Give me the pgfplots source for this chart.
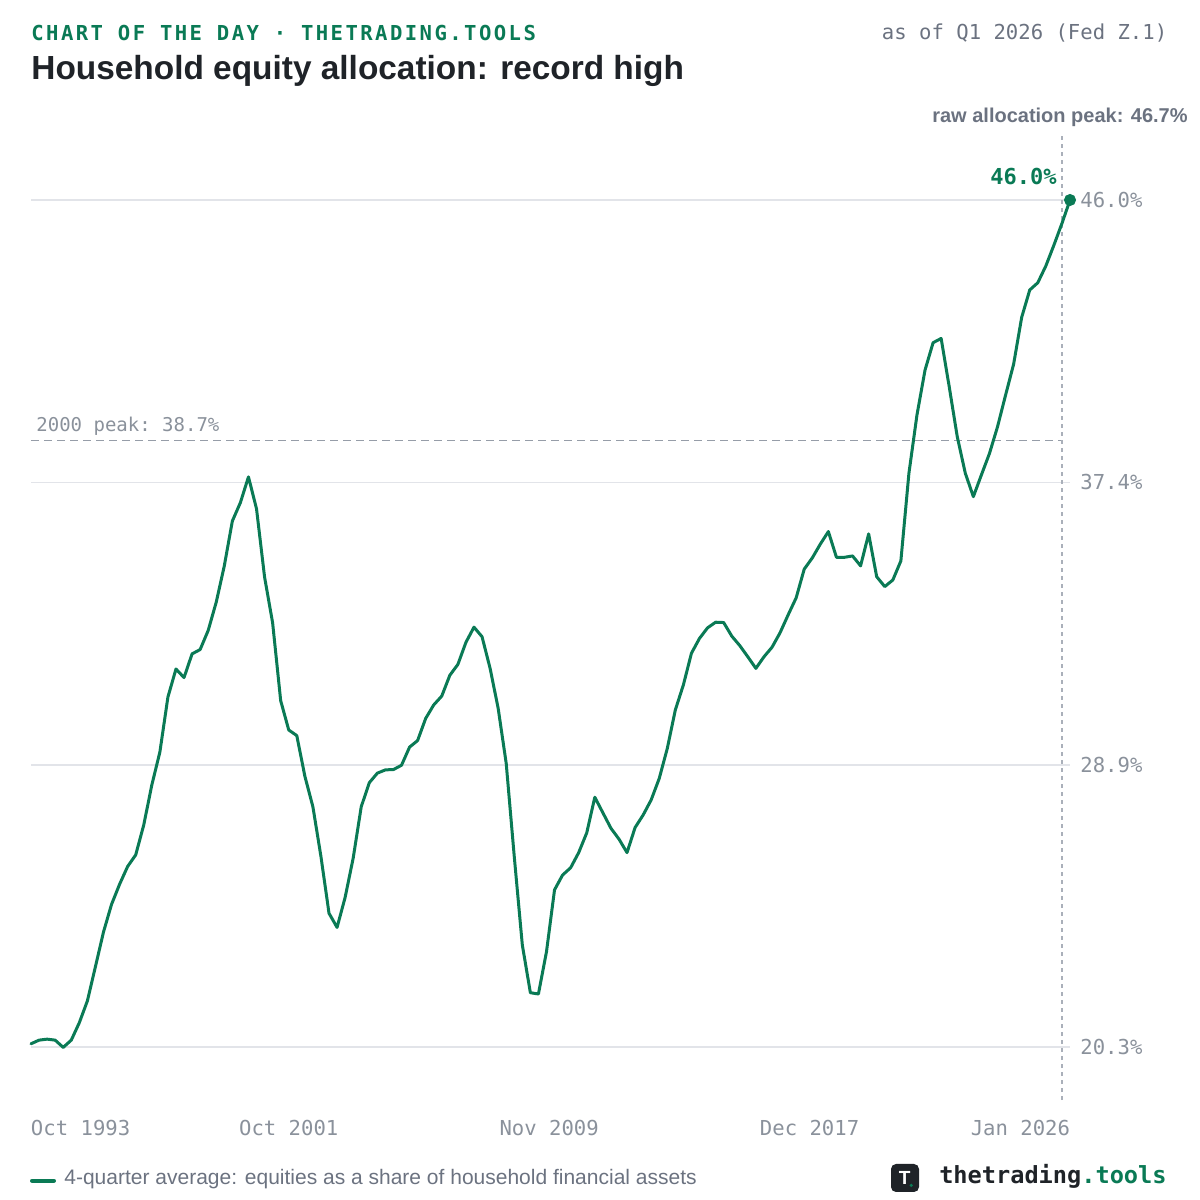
\documentclass[border=0pt]{standalone}
\usepackage{fontspec}
\setmainfont{Liberation Sans}
\setmonofont{DejaVu Sans Mono}
\newfontfamily\hdrfont{DejaVu Sans Mono}[LetterSpace=11.8]
\usepackage{pgfplots}
\pgfplotsset{compat=1.18}
\usepackage{pgfplotstable}
\definecolor{grn}{RGB}{10,122,85}
\definecolor{tickc}{RGB}{138,145,155}
\definecolor{txtc}{RGB}{107,114,128}
\definecolor{gridc}{RGB}{226,228,233}
\definecolor{dashc}{RGB}{150,157,168}
\definecolor{dotc}{RGB}{170,176,186}
\definecolor{darkc}{RGB}{31,35,40}
\pgfplotstableread{
x y
1993.75 20.40
1994.00 20.51
1994.25 20.54
1994.50 20.51
1994.75 20.29
1995.00 20.51
1995.25 21.04
1995.50 21.70
1995.75 22.74
1996.00 23.79
1996.25 24.63
1996.50 25.24
1996.75 25.78
1997.00 26.13
1997.25 27.04
1997.50 28.25
1997.75 29.25
1998.00 30.92
1998.25 31.77
1998.50 31.51
1998.75 32.23
1999.00 32.36
1999.25 32.94
1999.50 33.80
1999.75 34.90
2000.00 36.26
2000.25 36.82
2000.50 37.60
2000.75 36.63
2001.00 34.56
2001.25 33.17
2001.50 30.81
2001.75 29.92
2002.00 29.75
2002.25 28.52
2002.50 27.59
2002.75 26.08
2003.00 24.36
2003.25 23.93
2003.50 24.84
2003.75 26.03
2004.00 27.59
2004.25 28.32
2004.50 28.61
2004.75 28.71
2005.00 28.72
2005.25 28.85
2005.50 29.40
2005.75 29.60
2006.00 30.27
2006.25 30.68
2006.50 30.95
2006.75 31.58
2007.00 31.91
2007.25 32.58
2007.50 33.04
2007.75 32.75
2008.00 31.79
2008.25 30.58
2008.50 28.91
2008.75 26.08
2009.00 23.40
2009.25 21.95
2009.50 21.91
2009.75 23.19
2010.00 25.07
2010.25 25.52
2010.50 25.74
2010.75 26.20
2011.00 26.80
2011.25 27.88
2011.50 27.41
2011.75 26.94
2012.00 26.61
2012.25 26.20
2012.50 26.96
2012.75 27.34
2013.00 27.80
2013.25 28.45
2013.50 29.36
2013.75 30.53
2014.00 31.29
2014.25 32.25
2014.50 32.70
2014.75 33.02
2015.00 33.19
2015.25 33.18
2015.50 32.77
2015.75 32.48
2016.00 32.14
2016.25 31.79
2016.50 32.14
2016.75 32.43
2017.00 32.87
2017.25 33.41
2017.50 33.93
2017.75 34.80
2018.00 35.14
2018.25 35.56
2018.50 35.94
2018.75 35.16
2019.00 35.16
2019.25 35.20
2019.50 34.90
2019.75 35.87
2020.00 34.57
2020.25 34.27
2020.50 34.47
2020.75 35.05
2021.00 37.71
2021.25 39.48
2021.50 40.84
2021.75 41.67
2022.00 41.80
2022.25 40.34
2022.50 38.82
2022.75 37.71
2023.00 37.00
2023.25 37.66
2023.50 38.31
2023.75 39.12
2024.00 40.08
2024.25 41.02
2024.50 42.44
2024.75 43.27
2025.00 43.49
2025.25 44.00
2025.50 44.63
2025.75 45.29
2026.00 46.00
}\alloc
\begin{document}
\begin{tikzpicture}
\useasboundingbox (0,0) rectangle (600pt,600pt);
\begin{axis}[
  at={(15.5pt,50pt)}, anchor=south west,
  scale only axis, width=519.5pt, height=485pt,
  xmin=1993.75, xmax=2026, ymin=18.694, ymax=48.124,
  axis line style={draw=none},
  major tick length=0pt,
  ymajorgrids, grid style={gridc, line width=0.8pt},
  ytick={20.3,28.8667,37.4333,46.0},
  yticklabels={20.3\%,28.9\%,37.4\%,46.0\%},
  yticklabel pos=right,
  yticklabel style={anchor=west, inner sep=0pt, xshift=5pt, text=tickc,
    font=\ttfamily\fontsize{10.3}{12}\selectfont},
  xtick={1993.75,2001.75,2009.8333,2017.9167,2026.0},
  xticklabels={\rlap{Oct 1993},Oct 2001,Nov 2009,Dec 2017,\llap{Jan 2026}},
  xticklabel style={anchor=base, inner sep=0pt, yshift=-17.85pt, text=tickc,
    font=\ttfamily\fontsize{10.3}{12}\selectfont},
  clip=false,
]
\addplot[dashc, line width=0.75pt, dash pattern=on 4pt off 2.5pt] coordinates {(1993.75,38.7) (2025.75,38.7)};
\addplot[dotc, line width=0.75pt, dash pattern=on 2pt off 2pt] coordinates {(2025.75,18.694) (2025.75,48.05)};
\addplot[grn, line width=1.5pt, line join=round, line cap=round] table[x=x,y=y] {\alloc};
\addplot[only marks, mark=*, mark size=2.8pt, mark options={fill=grn, draw=grn}] coordinates {(2026.0,46.0)};
\end{axis}
% header
\node[anchor=base west, inner sep=0pt, text=grn, font=\hdrfont\bfseries\fontsize{10.3}{12}\selectfont] at (15.5pt,579.75pt) {CHART OF THE DAY · THETRADING.TOOLS};
\node[anchor=base east, inner sep=0pt, text=txtc, font=\ttfamily\fontsize{10.3}{12}\selectfont] at (583.8pt,580pt) {as of Q1 2026 (Fed Z.1)};
\node[anchor=base west, inner sep=0pt, text=darkc, font=\bfseries\fontsize{16.7}{20}\selectfont] at (15.5pt,560pt) {Household equity allocation: record high};
% annotations
\node[anchor=base east, inner sep=0pt, text=txtc, font=\bfseries\fontsize{10}{12}\selectfont] at (594pt,538.5pt) {raw allocation peak: 46.7\%};
\node[anchor=base east, inner sep=0pt, text=grn, font=\ttfamily\bfseries\fontsize{11}{12}\selectfont] at (528.5pt,507.5pt) {46.0\%};
\node[anchor=base west, inner sep=0pt, text=tickc, font=\ttfamily\fontsize{9.5}{11}\selectfont] at (18pt,384.15pt) {2000 peak: 38.7\%};
% legend
\draw[grn, line width=2pt, line cap=round] (16pt,9.65pt) -- (27pt,9.65pt);
\node[anchor=base west, inner sep=0pt, text=txtc, font=\fontsize{10.5}{12}\selectfont] at (32pt,7.5pt) {4-quarter average: equities as a share of household financial assets};
% logo
\fill[darkc, rounded corners=2.5pt] (445.5pt,4pt) rectangle (459.5pt,18pt);
\node[inner sep=0pt, text=white, font=\bfseries\fontsize{9.5}{10}\selectfont] at (452.3pt,11.2pt) {T};
\fill[grn] (455.6pt,7.3pt) circle (0.9pt);
\node[anchor=base east, inner sep=0pt, font=\ttfamily\bfseries\fontsize{11.8}{13}\selectfont] at (583.5pt,8.5pt) {\textcolor{darkc}{thetrading}\textcolor{grn}{.tools}};
\end{tikzpicture}
\end{document}
